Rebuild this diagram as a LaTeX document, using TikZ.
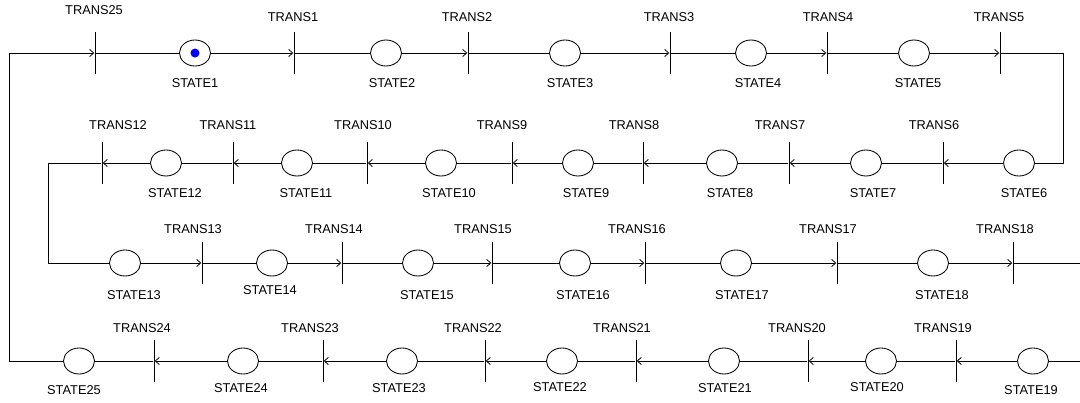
\documentclass[tikz,border=0pt]{standalone}
\usepackage{fontspec}
\setmainfont{Liberation Sans}
\usetikzlibrary{arrows.meta,shapes.geometric}
\begin{document}
\begin{tikzpicture}[x=1pt,y=-1pt,
  place/.style={ellipse, draw, line width=0.85pt, minimum width=31pt, minimum height=26pt, inner sep=0pt},
  tokn/.style={circle, fill=blue, minimum size=9pt, inner sep=0pt},
  trans/.style={rectangle, fill=black, minimum width=1pt, minimum height=42pt, inner sep=0pt},
  lbl/.style={font=\fontsize{12.8}{13}\selectfont, inner sep=0pt},
  arc/.style={line width=0.8pt},
  inarc/.style={arc, -{Straight Barb[length=4pt,width=7pt]}},
]
\clip (0,0) rectangle (1080,402);
\fill[white] (0,0) rectangle (1080,402);
% places
\foreach \n/\x/\y/\lx/\ly in {
 1/195/53/195/83, 2/386/53/392/83, 3/565/53/570/83, 4/751/53/758/83, 5/914/53/918/83,
 6/1019/163/1024/193, 7/866/163/873/193, 8/722/163/730/193, 9/578/163/586/193,
 10/441/163/449/193, 11/297/163/306/193, 12/166/163/175/193,
 13/125/263/134/295, 14/272/263/270/290, 15/418/263/427/295, 16/575/263/583/295,
 17/736/263/742/295, 18/933/263/942/295,
 19/1033/361/1031/390, 20/881/361/877/387, 21/724/361/725/388, 22/562/361/560/387,
 23/402/361/399/388, 24/243/361/241/388, 25/79/361/74/390}
 {
  \node[place] (s\n) at (\x,\y) {};
  \node[lbl] (ls\n) at (\lx,\ly) {STATE\n};
 }
\node[tokn] (tok1) at (s1) {};
% transitions
\foreach \n/\x/\y/\lx/\ly in {
 25/95/53/94/10, 1/294/53/293/17, 2/468/53/467/17, 3/670/53/669/17, 4/827/53/828/17, 5/1000/53/999/17,
 6/943/163/934/125, 7/789/163/780/125, 8/643/163/634/125, 9/512/163/502/125,
 10/367/163/363/125, 11/233/163/228/125, 12/102/163/118/125,
 13/202/263/193/229, 14/342/263/334/229, 15/492/263/483/229, 16/645/263/637/229,
 17/837/263/828/229, 18/1013/263/1005/229,
 19/956/361/943/328, 20/808/361/797/328, 21/636/361/622/328, 22/485/361/473/328,
 23/323/361/310/328, 24/154/361/142/328}
 {
  \node[trans] (t\n) at (\x,\y) {};
  \node[lbl] (lt\n) at (\lx,\ly) {TRANS\n};
 }
% routing corners
\coordinate (c1) at (9,361);
\coordinate (c2) at (9,53);
\coordinate (c3) at (1063,53);
\coordinate (c4) at (1063,163);
\coordinate (c5) at (48,163);
\coordinate (c6) at (48,263);
\coordinate (c7) at (1100,263);
\coordinate (c8) at (1100,361);
% input arcs (place -> transition)
\foreach \n in {1,...,24} { \draw[inarc] (s\n) -- (t\n); }
\draw[inarc] (s25) -- (c1) -- (c2) -- (t25);
% output arcs (transition -> place)
\foreach \a/\b in {25/1, 1/2, 2/3, 3/4, 4/5, 6/7, 7/8, 8/9, 9/10, 10/11, 11/12,
  13/14, 14/15, 15/16, 16/17, 17/18, 19/20, 20/21, 21/22, 22/23, 23/24, 24/25}
  { \draw[arc] (t\a) -- (s\b); }
\draw[arc] (t5) -- (c3) -- (c4) -- (s6);
\draw[arc] (t12) -- (c5) -- (c6) -- (s13);
\draw[arc] (t18) -- (c7) -- (c8) -- (s19);
\end{tikzpicture}
\end{document}
